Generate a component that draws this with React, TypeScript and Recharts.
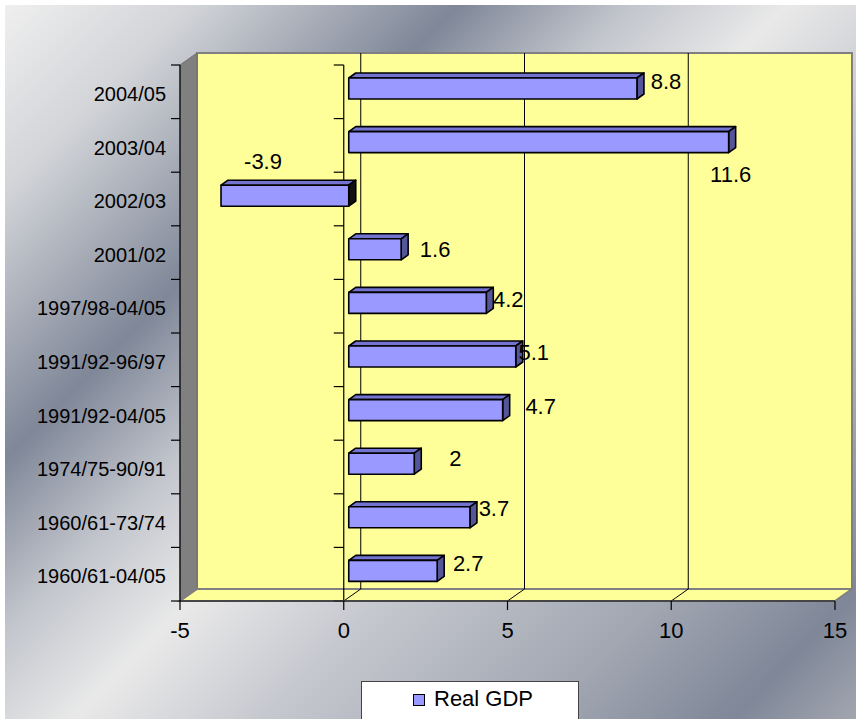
import React from 'react';
import {
  BarChart,
  Bar,
  XAxis,
  YAxis,
  CartesianGrid,
  ReferenceArea,
  ReferenceLine,
  LabelList,
  Legend,
} from 'recharts';

// ---------------- data ----------------
const categories = [
  '2004/05',
  '2003/04',
  '2002/03',
  '2001/02',
  '1997/98-04/05',
  '1991/92-96/97',
  '1991/92-04/05',
  '1974/75-90/91',
  '1960/61-73/74',
  '1960/61-04/05',
];
const realGdp = [8.8, 11.6, -3.9, 1.6, 4.2, 5.1, 4.7, 2, 3.7, 2.7];
const valueTicks = [-5, 0, 5, 10, 15];
const seriesName = 'Real GDP';

const data = categories.map((category, i) => ({ category, gdp: realGdp[i] }));

// ---------------- style ----------------
const FONT = '"Liberation Sans", Arial, sans-serif';
const DX = 17; // 3D depth offset of the back wall
const DY = -12;
const BAR_FRONT = [5, -3]; // front face of bars relative to front plane
const BAR_DEPTH = [7, -5]; // thickness of the bars in depth
// label nudges (relative to the end of each bar's front face)
const LABEL_NUDGE: [number, number][] = [
  [29, -7],
  [2, 32],
  [42, -35],
  [34, 0],
  [22, -4],
  [18, -4],
  [38, -4],
  [41, -6],
  [24, -9],
  [31, -8],
];

const norm = (p: any) => {
  const vb = p.viewBox || {};
  const x = p.x ?? vb.x;
  const y = p.y ?? vb.y;
  const w = p.width ?? vb.width;
  const h = p.height ?? vb.height;
  return {
    l: Math.min(x, x + w),
    r: Math.max(x, x + w),
    t: Math.min(y, y + h),
    b: Math.max(y, y + h),
  };
};

function Bar3D(props: any) {
  const { index } = props;
  const value = props.payload?.gdp ?? realGdp[index];
  const n = norm(props);
  const l = n.l + BAR_FRONT[0];
  const r = n.r + BAR_FRONT[0];
  const t = n.t + BAR_FRONT[1];
  const b = n.b + BAR_FRONT[1];
  const [dx, dy] = BAR_DEPTH;
  const neg = value < 0;
  return (
    <g stroke="#000" strokeWidth={1.6} strokeLinejoin="round">
      <polygon
        points={`${l},${t} ${l + dx},${t + dy} ${r + dx},${t + dy} ${r},${t}`}
        fill="#7373d0"
      />
      <polygon
        points={`${r},${t} ${r + dx},${t + dy} ${r + dx},${b + dy} ${r},${b}`}
        fill={neg ? '#111111' : '#55559a'}
      />
      <rect x={l} y={t} width={r - l} height={b - t} fill="#9999ff" />
    </g>
  );
}

function ValueLabel(props: any) {
  const { index } = props;
  const value = props.value ?? realGdp[index];
  const n = norm(props);
  const end = (value >= 0 ? n.r : n.l) + BAR_FRONT[0];
  const cy = (n.t + n.b) / 2 + BAR_FRONT[1];
  const [nx, ny] = LABEL_NUDGE[index] || [20, 0];
  return (
    <text
      x={end + nx}
      y={cy + ny}
      dy="0.355em"
      textAnchor="middle"
      fontSize={22}
      fontFamily={FONT}
      fill="#000"
    >
      {value}
    </text>
  );
}

function Walls(props: any) {
  const { x, y, width, height } = props;
  const x2 = x + width;
  const y2 = y + height;
  return (
    <g>
      <polygon
        points={`${x + DX},${y + DY} ${x2 + DX},${y + DY} ${x2 + DX},${y2 + DY} ${x + DX},${y2 + DY}`}
        fill="#ffff99"
        stroke="#808080"
        strokeWidth={2}
      />
      <polygon
        points={`${x},${y} ${x + DX},${y + DY} ${x + DX},${y2 + DY} ${x},${y2}`}
        fill="#808080"
        stroke="#6e6e6e"
        strokeWidth={1}
      />
      <polygon
        points={`${x},${y2} ${x + DX},${y2 + DY} ${x2 + DX},${y2 + DY} ${x2},${y2}`}
        fill="#ffff99"
        stroke="#808080"
        strokeWidth={2}
      />
    </g>
  );
}

function GridLine(props: any) {
  const { x1, y1, x2, y2, x, width } = props;
  if (x !== undefined && width !== undefined) {
    if (Math.abs(x1 - x) < 1 || Math.abs(x1 - (x + width)) < 1) return <g />;
  }
  return (
    <g stroke="#000" strokeWidth={1}>
      <line x1={x1 + DX} y1={y1 + DY} x2={x2 + DX} y2={y2 + DY} />
      <line x1={x2} y1={y2} x2={x2 + DX} y2={y2 + DY} />
    </g>
  );
}

function ZeroAxis(props: any) {
  const { x1, y1, x2, y2 } = props;
  const top = Math.min(y1, y2);
  const bottom = Math.max(y1, y2);
  const step = (bottom - top) / categories.length;
  const ticks = [];
  for (let k = 0; k <= categories.length; k++) {
    const ty = top + k * step;
    ticks.push(<line key={k} x1={x1 - 10} y1={ty} x2={x1} y2={ty} />);
  }
  return (
    <g stroke="#000" strokeWidth={1.2}>
      <line x1={x1} y1={top} x2={x2} y2={bottom} />
      {ticks}
    </g>
  );
}

const TICK_SIZE = 9;
const TICK_MARGIN = 5;

function CategoryTick(props: any) {
  const { x, y, payload, index } = props;
  const half = payload?.offset ?? 26.8;
  const axisX = x + TICK_SIZE + TICK_MARGIN;
  return (
    <g>
      <line x1={axisX - TICK_SIZE} y1={y - half} x2={axisX} y2={y - half} stroke="#000" strokeWidth={1.2} />
      {index === categories.length - 1 ? (
        <line x1={axisX - TICK_SIZE} y1={y + half} x2={axisX} y2={y + half} stroke="#000" strokeWidth={1.2} />
      ) : null}
      <text
        x={x}
        y={y + 2}
        dy="0.355em"
        textAnchor="end"
        fontSize={20}
        fontFamily={FONT}
        fill="#000"
      >
        {payload.value}
      </text>
    </g>
  );
}

function LegendBox(props: any) {
  const items = props.payload || [];
  return (
    <div
      style={{
        position: 'relative',
        width: 218,
        height: 38,
        boxSizing: 'border-box',
        background: '#fff',
        border: '1px solid #444',
        borderBottom: 'none',
        fontFamily: FONT,
        fontSize: 22,
        color: '#000',
      }}
    >
      {items.map((it: any, i: number) => (
        <div key={i}>
          <span
            style={{
              position: 'absolute',
              left: 51,
              top: 12,
              width: 12,
              height: 12,
              boxSizing: 'border-box',
              background: '#9999ff',
              border: '1px solid #000',
            }}
          />
          <span style={{ position: 'absolute', left: 72, top: 4, lineHeight: '25px', whiteSpace: 'nowrap' }}>
            {it.value}
          </span>
        </div>
      ))}
    </div>
  );
}

export default function App() {
  return (
    <div style={{ position: 'absolute', left: 0, top: 0, width: 856, height: 719, overflow: 'hidden' }}>
      <div
        style={{
          position: 'absolute',
          left: 5,
          top: 5,
          right: 0,
          bottom: 0,
          background:
            'linear-gradient(135deg, #efefef 0%, #d2d4d8 12%, #7f8798 29%, #c2c5cc 40%, #e9e9e9 50%, #c6c8cf 62%, #a1a6b1 80%, #7f8798 92%, #a2a6b0 100%)',
        }}
      />
      <div style={{ position: 'absolute', left: 0, top: 0 }}>
        <BarChart
          width={856}
          height={719}
          data={data}
          layout="vertical"
          margin={{ top: 65, right: 21, bottom: 0, left: 0 }}
          barSize={21}
        >
          <ReferenceArea x1={-5} x2={15} shape={(p: any) => <Walls {...p} />} zIndex={-300} ifOverflow="visible" />
          <CartesianGrid horizontal={false} vertical={(p: any) => <GridLine {...p} />} zIndex={-200} />
          <ReferenceLine x={0} shape={(p: any) => <ZeroAxis {...p} />} zIndex={-100} />
          <XAxis
            type="number"
            domain={[-5, 15]}
            ticks={valueTicks}
            allowDataOverflow
            height={118}
            tickSize={9}
            tickMargin={12}
            axisLine={{ stroke: '#333', strokeWidth: 1.5 }}
            tickLine={{ stroke: '#000', strokeWidth: 1.2 }}
            tick={{ fill: '#000', fontSize: 22, fontFamily: FONT }}
          />
          <YAxis
            type="category"
            dataKey="category"
            width={180}
            tickSize={TICK_SIZE}
            tickMargin={TICK_MARGIN}
            tickLine={false}
            axisLine={{ stroke: '#000', strokeWidth: 1.2 }}
            tick={(p: any) => <CategoryTick {...p} />}
            interval={0}
          />
          <Legend
            layout="horizontal"
            verticalAlign="middle"
            align="center"
            wrapperStyle={{ position: 'absolute', left: 361, top: 681, width: 218, height: 38, right: 'auto', bottom: 'auto' }}
            content={(p: any) => <LegendBox {...p} />}
          />
          <Bar dataKey="gdp" name={seriesName} fill="#9999ff" isAnimationActive={false} shape={(p: any) => <Bar3D {...p} />}>
            <LabelList dataKey="gdp" content={(p: any) => <ValueLabel {...p} />} />
          </Bar>
        </BarChart>
      </div>
    </div>
  );
}
